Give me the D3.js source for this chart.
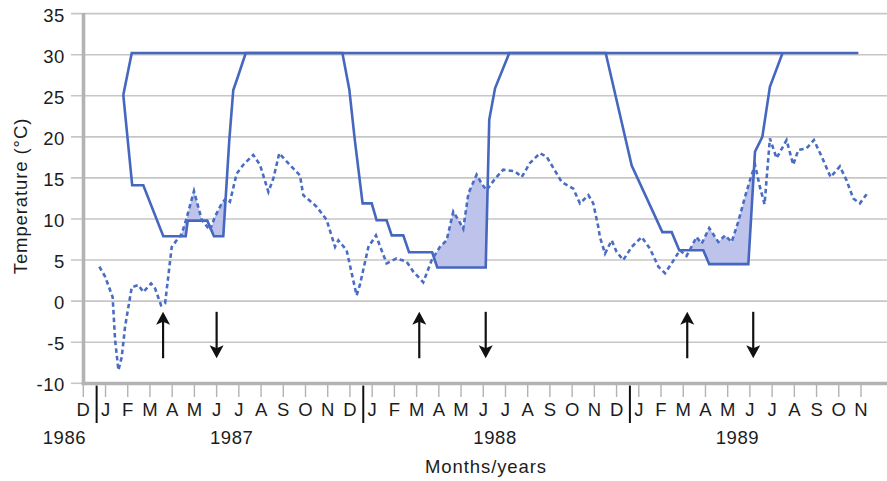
<!DOCTYPE html>
<html>
<head>
<meta charset="utf-8">
<script src="https://cdn.jsdelivr.net/npm/d3@7"></script>
<style>
  body { margin: 0; background: #fff; }
  svg { display: block; }
  text { font-family: "Liberation Sans", Arial, Helvetica, sans-serif; fill: #1c1c1c; }
</style>
</head>
<body>
<svg id="chart" width="887" height="481"></svg>
<script>
// Month ticks from December 1986 to November 1989 (index 0 = Dec 1986)
const monthLabels = [
  "D",
  "J","F","M","A","M","J","J","A","S","O","N","D",
  "J","F","M","A","M","J","J","A","S","O","N","D",
  "J","F","M","A","M","J","J","A","S","O","N"
];
const yearLabels = ["1986", "1987", "1988", "1989"];
const yTicks = [-10, -5, 0, 5, 10, 15, 20, 25, 30, 35];

// Upper limit line: [month index, °C]
const upperLimit = [[1.8, 25.1], [2.18, 30.2], [34.88, 30.2]];

// Lower threshold line: [month index, °C]
const threshold = [
  [1.8, 25.1], [2.2, 14.1], [2.7, 14.1], [3.6, 7.9], [4.61, 7.9], [4.7, 9.8],
  [5.58, 9.8], [5.88, 7.9], [6.3, 7.9], [6.57, 19.6], [6.75, 25.7], [6.93, 27.1],
  [7.31, 30.2], [11.66, 30.2], [11.97, 25.8], [12.22, 19.6], [12.57, 11.9],
  [12.98, 11.9], [13.2, 9.85], [13.65, 9.85], [13.88, 8.0], [14.4, 8.0],
  [14.66, 5.95], [15.7, 5.95], [15.93, 4.1], [18.11, 4.1], [18.27, 22.1],
  [18.53, 25.9], [19.17, 30.2], [23.51, 30.2], [24.68, 16.5], [26.06, 8.4],
  [26.48, 8.4], [26.82, 6.2], [27.9, 6.2], [28.17, 4.5], [29.93, 4.5],
  [30.23, 18.2], [30.56, 20.0], [30.9, 26.1], [31.47, 30.2]
];

// Measured temperature (dotted): [month index, °C]
const temperature = [
  [0.72, 4.2], [0.98, 3.0], [1.32, 0.5], [1.43, -4.7], [1.58, -8.4], [1.73, -6.8],
  [1.88, -3.1], [2.18, 1.7], [2.48, 1.95], [2.7, 1.1], [3.05, 2.15], [3.23, 1.55],
  [3.5, -0.5], [3.68, -0.3], [3.98, 6.6], [4.2, 7.4], [4.43, 8.2], [4.65, 10.1],
  [4.98, 13.4], [5.33, 9.9], [5.7, 8.65], [5.93, 10.3], [6.23, 11.9], [6.42, 12.5],
  [6.6, 12.1], [6.9, 15.5], [7.2, 16.6], [7.65, 17.8], [7.95, 16.6], [8.33, 13.3],
  [8.55, 14.9], [8.82, 18.0], [9.15, 17.0], [9.75, 15.3], [9.9, 12.9], [10.5, 11.5],
  [10.95, 9.9], [11.33, 6.6], [11.48, 7.4], [11.85, 6.2], [12.3, 0.7], [12.45, 2.0],
  [12.83, 6.6], [13.17, 8.0], [13.65, 4.6], [14.1, 5.2], [14.55, 4.8], [14.85, 3.6],
  [15.3, 2.3], [15.68, 5.0], [16.05, 6.6], [16.35, 7.4], [16.65, 10.9], [16.92, 9.7],
  [17.1, 8.8], [17.33, 13.1], [17.7, 15.4], [17.93, 14.3], [18.15, 13.5], [18.53, 14.9],
  [18.9, 16.0], [19.43, 15.8], [19.73, 15.1], [20.1, 16.8], [20.55, 18.0], [20.85, 17.6],
  [21.53, 14.5], [22.05, 13.7], [22.35, 11.9], [22.73, 12.9], [22.95, 11.9], [23.18, 9.0],
  [23.25, 7.8], [23.48, 5.8], [23.78, 7.4], [24.0, 6.0], [24.3, 5.0], [24.68, 6.6],
  [25.13, 7.8], [25.5, 6.4], [25.88, 4.2], [26.18, 3.4], [26.48, 4.6], [26.85, 6.2],
  [27.15, 5.5], [27.6, 7.8], [27.83, 7.0], [28.17, 8.9], [28.58, 7.2], [28.88, 8.0],
  [29.18, 7.2], [29.48, 9.7], [29.78, 12.7], [30.0, 14.7], [30.23, 16.6], [30.45, 13.9],
  [30.66, 11.8], [30.9, 19.8], [31.2, 17.4], [31.65, 19.6], [31.95, 16.6], [32.18, 18.4],
  [32.55, 18.6], [32.88, 19.6], [33.23, 17.6], [33.63, 15.1], [34.05, 16.4], [34.35, 14.7],
  [34.65, 12.5], [34.95, 11.9], [35.33, 13.3]
];

// Event markers (month index)
const upArrows = [3.59, 15.12, 27.18];
const downArrows = [6.0, 18.11, 30.15];
const arrowSpan = [-6.95, -1.3]; // °C range covered by each arrow

// ---------- layout ----------
const svg = d3.select("#chart");
const x = d3.scaleLinear().domain([0, 35]).range([83.3, 861]);
const y = d3.scaleLinear().domain([-10, 35]).range([383.3, 13.6]);

const lineColor = "#4567bf";
const fillColor = "#bec3ec";
const gridColor = "#c6c6c6";
const axisColor = "#b3b3b3";

// horizontal grid lines (also form the short y ticks left of the axis)
svg.append("g").selectAll("line").data(yTicks.filter(d => d !== -10)).join("line")
  .attr("x1", 71).attr("x2", 887)
  .attr("y1", d => y(d)).attr("y2", d => y(d))
  .attr("stroke", gridColor).attr("stroke-width", 1.6);
svg.append("line").attr("x1", 71).attr("x2", 84).attr("y1", y(-10)).attr("y2", y(-10))
  .attr("stroke", gridColor).attr("stroke-width", 1.6);

// y tick labels
svg.append("g").selectAll("text").data(yTicks).join("text")
  .attr("x", 65).attr("y", d => y(d) + 8)
  .attr("text-anchor", "end")
  .style("font-size", "18.5px").style("letter-spacing", "0.6px")
  .text(d => d);

// x ticks
svg.append("g").selectAll("line").data(monthLabels).join("line")
  .attr("x1", (d, i) => x(i)).attr("x2", (d, i) => x(i))
  .attr("y1", 383).attr("y2", 397)
  .attr("stroke", axisColor).attr("stroke-width", 1.4);

// month labels
svg.append("g").selectAll("text").data(monthLabels).join("text")
  .attr("x", (d, i) => x(i)).attr("y", 416)
  .attr("text-anchor", "middle")
  .style("font-size", "18.5px")
  .text(d => d);

// year separators between December and January
const janIdx = monthLabels.map((d, i) => i).filter(i => i > 0 && monthLabels[i - 1] === "D");
svg.append("g").selectAll("line").data(janIdx).join("line")
  .attr("x1", d => x(d - 0.4)).attr("x2", d => x(d - 0.4))
  .attr("y1", 385.5).attr("y2", 423)
  .attr("stroke", "#111").attr("stroke-width", 2);

// year labels
const yearAnchor = [-0.85, 6.68, 18.53, 29.44];
svg.append("g").selectAll("text").data(yearLabels).join("text")
  .attr("x", (d, i) => x(yearAnchor[i])).attr("y", 444)
  .attr("text-anchor", "middle")
  .style("font-size", "18.5px").style("letter-spacing", "0.6px")
  .text(d => d);

// axis titles
svg.append("text")
  .attr("x", 486).attr("y", 473.3)
  .attr("text-anchor", "middle")
  .style("font-size", "18.5px").style("letter-spacing", "0.9px")
  .text("Months/years");
svg.append("text")
  .attr("transform", "translate(26.5,196) rotate(-90)")
  .attr("text-anchor", "middle")
  .style("font-size", "18.5px").style("letter-spacing", "0.9px")
  .text("Temperature (°C)");

// ---------- shaded region: temperature above the threshold ----------
function interp(series, xv) {
  const i = d3.bisector(d => d[0]).right(series, xv);
  if (i <= 0) return series[0][1];
  if (i >= series.length) return series[series.length - 1][1];
  const a = series[i - 1], b = series[i];
  return a[1] + (b[1] - a[1]) * (xv - a[0]) / (b[0] - a[0]);
}
const lo = Math.max(threshold[0][0], temperature[0][0]);
const hi = Math.min(threshold[threshold.length - 1][0], temperature[temperature.length - 1][0]);
let xs = Array.from(new Set(threshold.map(d => d[0]).concat(temperature.map(d => d[0]))))
  .filter(v => v >= lo && v <= hi).sort((a, b) => a - b);
const withCross = [];
xs.forEach((v, k) => {
  if (k > 0) {
    const p = xs[k - 1];
    const d0 = interp(temperature, p) - interp(threshold, p);
    const d1 = interp(temperature, v) - interp(threshold, v);
    if (d0 * d1 < 0) withCross.push(p + (v - p) * d0 / (d0 - d1));
  }
  withCross.push(v);
});
const shade = withCross.map(v => {
  const t = interp(threshold, v), m = interp(temperature, v);
  return { m: v, lo: t, hi: Math.max(t, m) };
});
svg.append("path")
  .datum(shade)
  .attr("fill", fillColor)
  .attr("d", d3.area().x(d => x(d.m)).y0(d => y(d.lo)).y1(d => y(d.hi)));

// ---------- lines ----------
const line = d3.line().x(d => x(d[0])).y(d => y(d[1]));
svg.append("path").datum(upperLimit)
  .attr("fill", "none").attr("stroke", lineColor).attr("stroke-width", 2.6)
  .attr("d", line);
svg.append("path").datum(threshold)
  .attr("fill", "none").attr("stroke", lineColor).attr("stroke-width", 2.6)
  .attr("stroke-linejoin", "miter")
  .attr("d", line);
svg.append("path").datum(temperature)
  .attr("fill", "none").attr("stroke", "#4a6dc4").attr("stroke-width", 2.6)
  .attr("stroke-dasharray", "4.5,3.2")
  .attr("d", line);

// ---------- axes ----------
svg.append("line").attr("x1", 83.5).attr("x2", 83.5).attr("y1", 13).attr("y2", 385.3)
  .attr("stroke", axisColor).attr("stroke-width", 3.6);
svg.append("line").attr("x1", 81.7).attr("x2", 887).attr("y1", 383.5).attr("y2", 383.5)
  .attr("stroke", axisColor).attr("stroke-width", 3.6);

// ---------- arrows ----------
function arrowHead(g, tipX, tipY, dir) {
  // dir = -1 points up, +1 points down
  const w = 7, len = 13, notch = 3;
  const pts = [
    [tipX, tipY],
    [tipX - w, tipY - dir * len],
    [tipX, tipY - dir * (len - notch)],
    [tipX + w, tipY - dir * len]
  ];
  g.append("path").attr("d", "M" + pts.map(p => p.join(",")).join("L") + "Z").attr("fill", "#111");
}
const arrows = svg.append("g");
upArrows.forEach(m => {
  arrows.append("line").attr("x1", x(m)).attr("x2", x(m))
    .attr("y1", y(arrowSpan[0])).attr("y2", y(arrowSpan[1]) + 8)
    .attr("stroke", "#111").attr("stroke-width", 2.2);
  arrowHead(arrows, x(m), y(arrowSpan[1]), -1);
});
downArrows.forEach(m => {
  arrows.append("line").attr("x1", x(m)).attr("x2", x(m))
    .attr("y1", y(arrowSpan[1])).attr("y2", y(arrowSpan[0]) - 8)
    .attr("stroke", "#111").attr("stroke-width", 2.2);
  arrowHead(arrows, x(m), y(arrowSpan[0]), 1);
});
</script>
</body>
</html>
